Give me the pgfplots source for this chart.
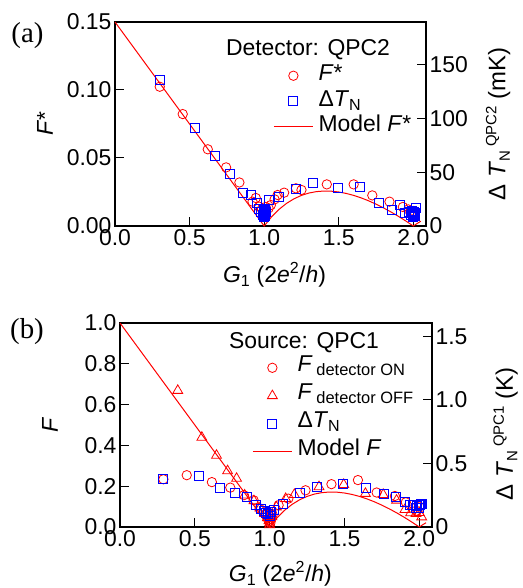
\documentclass[border=0pt]{standalone}
\usepackage{fontspec}
\setmainfont{Liberation Sans}
\newfontfamily\panelfont{Liberation Serif}
\usepackage{pgfplots}
\pgfplotsset{compat=1.18}

\newcommand{\lbl}{\fontsize{23}{27}\selectfont}
\newcommand{\sub}[1]{\raisebox{-3.5bp}{\fontsize{16.5}{18}\selectfont #1}}
\newcommand{\dtn}[2]{\fontsize{24}{28}\selectfont Δ \textit{T}\raisebox{-4.5bp}{\fontsize{15}{16}\selectfont N}\hspace{4bp}\raisebox{9bp}{\fontsize{15}{16}\selectfont #1} (#2)}

\pgfplotsset{
  base/.style={
    scale only axis, xmin=0, xmax=2.085, clip=false,
    axis line style={line width=1.1bp},
    tick align=inside, major tick length=9bp,
    every tick/.style={black, line width=1bp},
    tick label style={font=\lbl},
    label style={font=\lbl},
    /pgf/number format/assume math mode=true,
  },
  lgi/.style={legend image code/.code={%
    \draw[mark repeat=2,mark phase=2,##1] plot coordinates {(0bp,0bp) (19.5bp,0bp) (39bp,0bp)};}},
  lgline/.style={legend image code/.code={%
    \draw[red, line width=1.4bp] (0bp,0bp) -- (39bp,0bp);}},
  circ/.style={only marks, mark=o, red, mark size=4.7bp, line width=0.8bp, lgi},
  sq/.style={only marks, mark=square, blue, mark size=4.5bp, line width=0.8bp, lgi},
  tri/.style={only marks, mark=triangle, red, mark size=5.7bp, line width=0.8bp, lgi},
  model/.style={color=red, line width=1bp, lgline},
}

% panel (a): F* (left axis) and Delta T_N in mK (right axis)
\pgfplotstableread{
g f
0.300 0.1024
0.454 0.0823
0.622 0.0564
0.745 0.0431
0.834 0.0320
0.922 0.0179
0.944 0.0206
0.966 0.0142
0.985 0.0125
0.995 0.0110
1.000 0.0100
1.003 0.0120
1.010 0.0140
1.030 0.0130
1.045 0.0154
1.070 0.0196
1.090 0.0228
1.134 0.0245
1.213 0.0277
1.250 0.0265
1.420 0.0306
1.600 0.0306
1.725 0.0225
1.840 0.0179
1.930 0.0140
1.966 0.0122
1.980 0.0110
1.995 0.0095
2.000 0.0110
2.010 0.0090
}\fstara
\pgfplotstableread{
g t
0.300 135.5
0.535 90.9
0.673 65.0
0.772 48.3
0.857 30.9
0.910 28.8
0.949 21.0
0.966 15.5
0.980 13.0
0.990 10.0
0.995 14.0
0.997 11.0
1.000 8.0
1.000 10.0
1.000 12.0
1.000 14.0
1.000 16.0
1.003 9.0
1.005 11.0
1.005 15.0
1.010 13.0
1.034 24.1
1.096 27.2
1.210 34.0
1.327 39.6
1.497 35.6
1.644 35.9
1.772 21.0
1.855 14.8
1.908 19.8
1.944 11.8
1.970 13.0
1.985 10.0
1.990 14.0
1.995 8.0
1.995 12.0
2.000 9.0
2.000 11.0
2.003 13.0
2.005 10.0
2.010 9.0
2.010 12.0
2.020 16.4
}\dta
\pgfplotstableread{
g f
0.00 0.15000
1.00 0.00000
1.05 0.00679
1.10 0.01227
1.15 0.01663
1.20 0.02000
1.25 0.02250
1.30 0.02423
1.35 0.02528
1.40 0.02571
1.45 0.02560
1.50 0.02500
1.55 0.02395
1.60 0.02250
1.65 0.02068
1.70 0.01853
1.75 0.01607
1.80 0.01333
1.85 0.01034
1.90 0.00711
1.95 0.00365
2.00 0.00000
2.02 0.00146
2.05 0.00350
}\modela

% panel (b): F (left axis) and Delta T_N in K (right axis)
\pgfplotstableread{
g f
0.290 0.234
0.446 0.254
0.614 0.220
0.737 0.193
0.828 0.156
0.893 0.131
0.933 0.090
0.960 0.070
0.980 0.050
0.990 0.035
1.000 0.030
1.000 0.050
1.005 0.020
1.010 0.040
1.020 0.060
1.060 0.107
1.125 0.139
1.240 0.180
1.413 0.210
1.590 0.230
1.715 0.169
1.837 0.152
1.910 0.121
1.960 0.090
1.980 0.080
2.000 0.100
}\fon
\pgfplotstableread{
g f
0.386 0.669
0.547 0.439
0.645 0.351
0.719 0.275
0.779 0.238
0.833 0.156
0.895 0.128
0.935 0.093
0.967 0.066
0.985 0.045
0.995 0.030
1.000 0.020
1.000 0.010
1.005 0.040
1.015 0.050
1.045 0.098
1.107 0.139
1.165 0.159
1.330 0.197
1.495 0.208
1.640 0.164
1.759 0.159
1.848 0.131
1.904 0.085
1.942 0.069
1.978 0.066
2.000 0.070
2.016 0.049
}\foff
\pgfplotstableread{
g t
0.290 0.376
0.527 0.400
0.667 0.308
0.766 0.271
0.848 0.237
0.906 0.176
0.940 0.145
0.960 0.125
0.978 0.113
0.990 0.100
1.000 0.090
1.000 0.120
1.010 0.118
1.027 0.137
1.089 0.184
1.200 0.268
1.319 0.316
1.491 0.337
1.640 0.308
1.763 0.258
1.844 0.237
1.904 0.197
1.940 0.170
1.960 0.171
1.975 0.150
1.985 0.165
1.995 0.175
2.000 0.150
2.005 0.170
2.010 0.179
2.020 0.180
}\dtb
\pgfplotstableread{
g f
0.00 1.00000
1.00 0.00000
1.05 0.04524
1.10 0.08182
1.15 0.11087
1.20 0.13333
1.25 0.15000
1.30 0.16154
1.35 0.16852
1.40 0.17143
1.45 0.17069
1.50 0.16667
1.55 0.15968
1.60 0.15000
1.65 0.13788
1.70 0.12353
1.75 0.10714
1.80 0.08889
1.85 0.06892
1.90 0.04737
1.95 0.02436
2.00 0.00000
2.02 0.00970
2.045 0.02100
}\modelb

\begin{document}
\begin{tikzpicture}
\path[use as bounding box] (0,0) rectangle (523bp,588bp);

% ---------- (a) ----------
\begin{axis}[base, at={(115bp,362bp)}, anchor=south west, width=311bp, height=204bp,
  ymin=0, ymax=0.15, ytick={0,0.05,0.10,0.15},
  xtick={0,0.5,1,1.5,2}, xtick pos=left, ytick pos=left,
  xticklabel style={/pgf/number format/.cd, fixed, fixed zerofill, precision=1},
  yticklabel style={/pgf/number format/.cd, fixed, fixed zerofill, precision=2},
  xlabel={\textit{G}\textsubscript{1} (2\textit{e}\textsuperscript{2}/\textit{h})},
  xlabel style={at={(axis description cs:0.513,-0.279)}, anchor=base},
  ylabel={\textit{F*}},
  ylabel style={at={(axis description cs:-0.225,0.5)}, anchor=center},
  legend style={draw=none, fill=none, at={(axis description cs:0.508,0.80)}, anchor=north west,
    font=\lbl, inner sep=0bp, column sep=4bp, row sep=0bp,
    nodes={inner sep=1bp, text height=17bp, text depth=6.5bp}},
  legend cell align=left,
]
\addplot[model, forget plot] table[x=g, y=f] {\modela};
\addplot[circ] table[x=g, y=f] {\fstara};
\addlegendentry{\textit{F*}}
\addlegendimage{sq}
\addlegendentry{Δ\textit{T}\textsubscript{N}}
\addlegendimage{model}
\addlegendentry{Model \textit{F*}}
\end{axis}
\begin{axis}[base, at={(115bp,362bp)}, anchor=south west, width=311bp, height=204bp,
  axis y line*=right, axis x line=none,
  ymin=0, ymax=189.3, ytick={0,50,100,150},
  ylabel={\dtn{QPC2}{mK}},
  ylabel style={at={(axis description cs:1.232,0.5)}, anchor=center, rotate=0},
]
\addplot[sq] table[x=g, y=t] {\dta};
\end{axis}

% ---------- (b) ----------
\begin{axis}[base, at={(120bp,61bp)}, anchor=south west, width=312bp, height=204bp,
  ymin=0, ymax=1.0, ytick={0,0.2,0.4,0.6,0.8,1.0},
  xtick={0,0.5,1,1.5,2}, xtick pos=left, ytick pos=left,
  xticklabel style={/pgf/number format/.cd, fixed, fixed zerofill, precision=1},
  yticklabel style={/pgf/number format/.cd, fixed, fixed zerofill, precision=1},
  xlabel={\textit{G}\textsubscript{1} (2\textit{e}\textsuperscript{2}/\textit{h})},
  xlabel style={at={(axis description cs:0.514,-0.268)}, anchor=base},
  ylabel={\textit{F}},
  ylabel style={at={(axis description cs:-0.224,0.5)}, anchor=center},
  legend style={draw=none, fill=none, at={(axis description cs:0.423,0.85)}, anchor=north west,
    font=\lbl, inner sep=0bp, column sep=4bp, row sep=0bp,
    nodes={inner sep=1bp, text height=17bp, text depth=9bp}},
  legend cell align=left,
]
\addplot[model, forget plot] table[x=g, y=f] {\modelb};
\addplot[circ] table[x=g, y=f] {\fon};
\addlegendentry{\textit{F}\,\sub{detector ON}}
\addplot[tri] table[x=g, y=f] {\foff};
\addlegendentry{\textit{F}\,\sub{detector OFF}}
\addlegendimage{sq}
\addlegendentry{Δ\textit{T}\textsubscript{N}}
\addlegendimage{model}
\addlegendentry{Model \textit{F}}
\end{axis}
\begin{axis}[base, at={(120bp,61bp)}, anchor=south west, width=312bp, height=204bp,
  axis y line*=right, axis x line=none,
  ymin=0, ymax=1.605, ytick={0,0.5,1.0,1.5}, yticklabels={0,0.5,1.0,1.5},
  ylabel={\dtn{QPC1}{K}},
  ylabel style={at={(axis description cs:1.236,0.456)}, anchor=center, rotate=0},
]
\addplot[sq] table[x=g, y=t] {\dtb};
\end{axis}

\node[font=\panelfont\fontsize{29}{33}\selectfont] at (27.5bp,552bp) {(a)};
\node[font=\panelfont\fontsize{29}{33}\selectfont] at (27bp,256bp) {(b)};
\node[font=\lbl] at (308bp,538bp) {Detector: QPC2};
\node[font=\lbl] at (304bp,245.3bp) {Source: QPC1};
\end{tikzpicture}
\end{document}
